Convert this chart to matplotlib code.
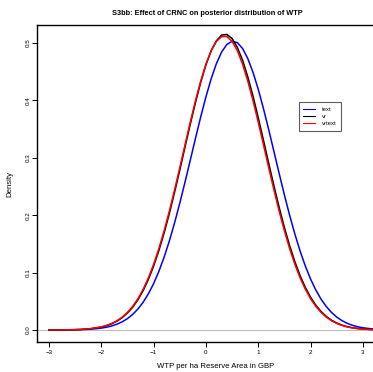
import matplotlib
matplotlib.use("Agg")
import matplotlib.pyplot as plt

plt.rcParams['font.family'] = ['Liberation Sans', 'DejaVu Sans']

# WTP grid (GBP per ha) and density values
wtp = [-3.0, -2.8, -2.6, -2.4, -2.2, -2.0, -1.9, -1.8, -1.7, -1.6, -1.5, -1.4,
       -1.3, -1.2, -1.1, -1.0, -0.9, -0.8, -0.7, -0.6, -0.5, -0.4, -0.3, -0.2,
       -0.1, 0.0, 0.1, 0.2, 0.3, 0.4, 0.5, 0.6, 0.7, 0.8, 0.9, 1.0, 1.1, 1.2,
       1.3, 1.4, 1.5, 1.6, 1.7, 1.8, 1.9, 2.0, 2.1, 2.2, 2.3, 2.4, 2.5, 2.6,
       2.7, 2.8, 2.9, 3.0, 3.2, 3.4, 3.6]

dens_text = [0.00003, 0.00008, 0.00023, 0.00059, 0.00144, 0.00331, 0.00489,
             0.00712, 0.01019, 0.01437, 0.0199, 0.0272, 0.0366, 0.0484, 0.0631,
             0.0808, 0.1021, 0.1268, 0.1549, 0.1865, 0.2209, 0.2575, 0.2955,
             0.3338, 0.3711, 0.4061, 0.4375, 0.4639, 0.4841, 0.4973, 0.5028,
             0.5004, 0.4903, 0.4728, 0.4487, 0.4192, 0.3855, 0.3489, 0.3109,
             0.2726, 0.2353, 0.1999, 0.1672, 0.1376, 0.1115, 0.0889, 0.0698,
             0.0539, 0.0410, 0.0307, 0.0226, 0.0164, 0.0117, 0.0082, 0.0057,
             0.0039, 0.0017, 0.0007, 0.0003]

dens_vr = [0.00005, 0.00014, 0.00037, 0.00096, 0.00231, 0.00519, 0.00759,
           0.01092, 0.01548, 0.02156, 0.02958, 0.0398, 0.0527, 0.0688, 0.0882,
           0.1114, 0.1383, 0.1689, 0.2028, 0.2398, 0.2785, 0.3186, 0.3582,
           0.3961, 0.4313, 0.4616, 0.4864, 0.5036, 0.5136, 0.5146, 0.5076,
           0.4922, 0.4699, 0.4409, 0.4073, 0.3698, 0.3304, 0.2903, 0.2511,
           0.2135, 0.1786, 0.1470, 0.1190, 0.0947, 0.0742, 0.0572, 0.0433,
           0.0324, 0.0237, 0.0171, 0.01214, 0.0085, 0.00582, 0.0039, 0.00262,
           0.0017, 0.0007, 0.00026, 0.0001]

dens_vrtext = [0.00005, 0.00015, 0.0004, 0.00102, 0.00245, 0.00547, 0.00799,
               0.01146, 0.0162, 0.0225, 0.0308, 0.0413, 0.0546, 0.0711, 0.0909,
               0.1145, 0.1418, 0.1727, 0.2069, 0.2439, 0.2827, 0.3225, 0.3618,
               0.3993, 0.4335, 0.4630, 0.4864, 0.5026, 0.5110, 0.5110, 0.5026,
               0.4864, 0.4630, 0.4335, 0.3993, 0.3618, 0.3225, 0.2827, 0.2439,
               0.2069, 0.1727, 0.1418, 0.1145, 0.0909, 0.0711, 0.0546, 0.0413,
               0.0308, 0.0225, 0.0162, 0.01146, 0.0080, 0.00547, 0.0037, 0.00245,
               0.0016, 0.00065, 0.00024, 0.0001]

series_names = ['text', 'vr', 'vrtext']
series_cols = ['#0000FF', '#000000', '#FF0000']

fig = plt.figure(figsize=(3.73, 3.72), dpi=100)
ax = fig.add_axes([0.0992, 0.0806, 0.9577, 0.852])

ax.axhline(0, color='#BEBEBE', lw=0.8, zorder=1)
for ys, nm, c in zip([dens_text, dens_vr, dens_vrtext], series_names, series_cols):
    ax.plot(wtp, ys, color=c, lw=1.1, label=nm, zorder=2)

ax.set_xlim(-3.23, 3.6)
ax.set_ylim(-0.0209, 0.531)

ax.set_xticks([-3, -2, -1, 0, 1, 2, 3])
ax.set_yticks([0.0, 0.1, 0.2, 0.3, 0.4, 0.5])
ax.set_yticklabels(['0.0', '0.1', '0.2', '0.3', '0.4', '0.5'], rotation=90, va='center')
ax.tick_params(axis='both', labelsize=4.5, length=3.5, width=0.7)
ax.tick_params(axis='x', pad=2.5)
ax.tick_params(axis='y', pad=1)
for s in ax.spines.values():
    s.set_linewidth(1.0)

ax.set_xlabel('WTP per ha Reserve Area in GBP', fontsize=5.6, labelpad=5.5)
ax.set_ylabel('Density', fontsize=5.6, labelpad=9)

fig.text(0.555, 0.965, 'S3bb: Effect of CRNC on posterior distribution of WTP',
         ha='center', va='center', fontsize=5.3, fontweight='bold')

leg = ax.legend(loc='center', bbox_to_anchor=(0.858, 0.687),
                bbox_transform=fig.transFigure, fontsize=4.2, frameon=True,
                fancybox=False, handlelength=2.0, handletextpad=1.2,
                labelspacing=0.4, borderpad=0.8, borderaxespad=0)
leg.get_frame().set_edgecolor('#333333')
leg.get_frame().set_linewidth(0.8)
for ln in leg.get_lines():
    ln.set_linewidth(0.8)

fig.savefig('out.png', dpi=100)
